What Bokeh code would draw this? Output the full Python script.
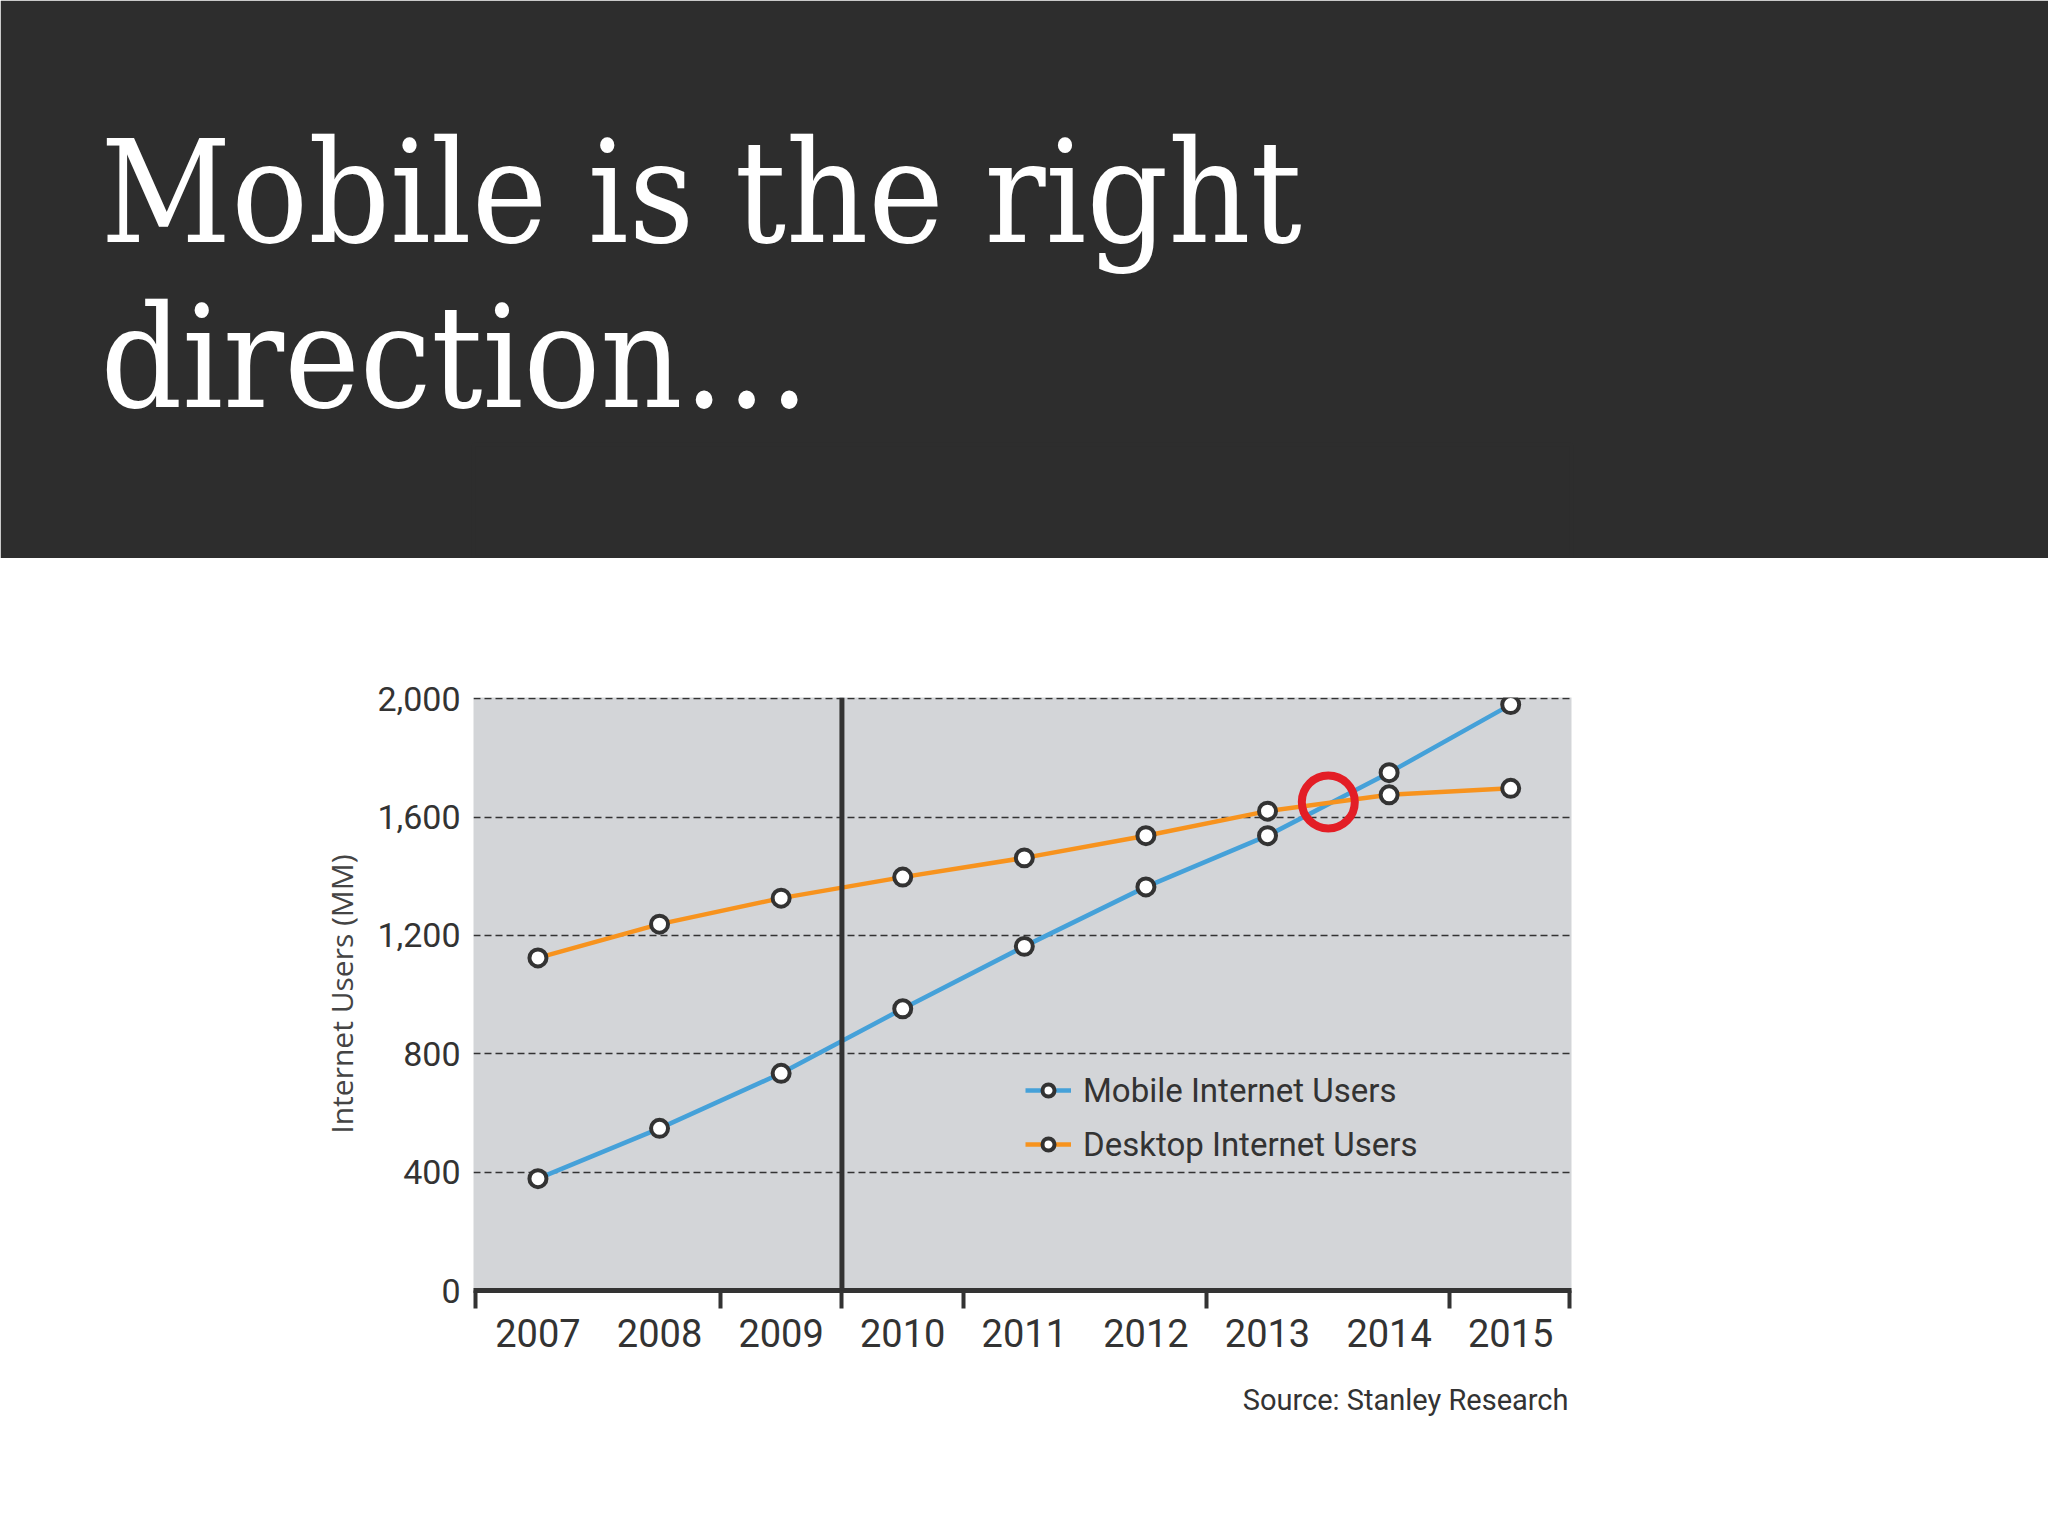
from bokeh.plotting import figure
from bokeh.models import Range1d, FixedTicker, NumeralTickFormatter, Span, Title
from bokeh.layouts import column
from bokeh.embed import file_html
from bokeh.resources import INLINE

# ---- data ----
years = [2007, 2008, 2009, 2010, 2011, 2012, 2013, 2014, 2015]
mobile_users = [378, 548, 734, 952, 1163, 1364, 1537, 1750, 1980]
desktop_users = [1124, 1238, 1326, 1397, 1462, 1537, 1620, 1675, 1697]
y_tick_values = [0, 400, 800, 1200, 1600, 2000]
x_boundary_ticks = [2006.49, 2008.5, 2009.5, 2010.5, 2012.5, 2014.5, 2015.48]
divider_year = 2009.5
crossover_year = [2013.5]
crossover_value = [1651]
series_names = ["Mobile Internet Users", "Desktop Internet Users"]
title_lines = ["Mobile is the right", "direction\u2026"]
y_label = "Internet Users (MM)"
source_text = "Source: Stanley Research"

W = 2048
TOP_H = 558
BOT_H = 1536 - TOP_H

DARK = "#333333"
BLUE = "#45a1d9"
ORANGE = "#f7931e"
RED = "#e31e26"
BAND = "#2d2d2d"
FONT = "Roboto"
SERIF = "'DejaVu Serif Condensed', 'Liberation Serif'"

# ---- title band ----
top = figure(width=W, height=TOP_H, x_range=Range1d(0, 1), y_range=Range1d(0, 1),
             output_backend="svg", toolbar_location=None, title_location=None,
             min_border=0, min_border_top=444,
             x_axis_location=None, y_axis_location=None,
             background_fill_color=BAND, border_fill_color=BAND,
             outline_line_color=BAND, outline_line_width=4)
top.grid.visible = False
for txt, so in zip(reversed(title_lines), [9, -12]):
    top.add_layout(Title(text=txt, align="left", offset=-373, text_font=SERIF,
                         text_font_size="142px", text_font_style="normal",
                         text_color="white", standoff=so), "above")

# ---- chart ----
p = figure(width=W, height=BOT_H, x_range=Range1d(2006.47, 2015.5), y_range=Range1d(0, 2004),
           output_backend="svg", toolbar_location=None,
           min_border_left=473, min_border_right=477, min_border_top=139, min_border_bottom=246,
           background_fill_color="#d3d5d8", border_fill_color="white", outline_line_color=None)

p.xaxis.ticker = FixedTicker(ticks=years, minor_ticks=x_boundary_ticks)
p.xaxis.major_tick_line_color = None
p.xaxis.major_tick_out = 0
p.xaxis.major_tick_in = 0
p.xaxis.minor_tick_out = 18
p.xaxis.minor_tick_in = 0
p.xaxis.minor_tick_line_width = 4
p.xaxis.minor_tick_line_color = DARK
p.xaxis.axis_line_width = 5
p.xaxis.axis_line_color = DARK
p.xaxis.major_label_standoff = 10
p.xaxis.major_label_text_font = FONT
p.xaxis.major_label_text_font_size = "38px"
p.xaxis.major_label_text_color = DARK

p.yaxis.ticker = FixedTicker(ticks=y_tick_values)
p.yaxis.formatter = NumeralTickFormatter(format="0,0")
p.yaxis.axis_line_color = None
p.yaxis.major_tick_line_color = None
p.yaxis.minor_tick_line_color = None
p.yaxis.major_tick_out = 0
p.yaxis.major_tick_in = 0
p.yaxis.major_label_standoff = 13
p.yaxis.major_label_text_font = FONT
p.yaxis.major_label_text_font_size = "34px"
p.yaxis.major_label_text_color = DARK
p.yaxis.axis_label = y_label
p.yaxis.axis_label_text_font = "Open Sans"
p.yaxis.axis_label_text_font_size = "30px"
p.yaxis.axis_label_text_font_style = "normal"
p.yaxis.axis_label_text_color = "#444444"
p.yaxis.axis_label_standoff = 12

p.xgrid.grid_line_color = None
p.ygrid.ticker = FixedTicker(ticks=y_tick_values)
p.ygrid.grid_line_color = DARK
p.ygrid.grid_line_width = 1.5
p.ygrid.grid_line_dash = "7 4"

p.add_layout(Span(location=divider_year, dimension="height", line_color=DARK, line_width=5))

for vals, col, name in zip([mobile_users, desktop_users], [BLUE, ORANGE], series_names):
    p.line(years, vals, line_color=col, line_width=4.5, legend_label=name)
    p.scatter(years, vals, size=17, fill_color="white", line_color=DARK, line_width=4,
              legend_label=name)

p.scatter(crossover_year, crossover_value, size=53, fill_color=None, line_color=RED, line_width=8)

lg = p.legend[0]
lg.location = (552, 119)
lg.background_fill_alpha = 0
lg.border_line_color = None
lg.label_text_font = FONT
lg.label_text_font_size = "33px"
lg.label_text_color = DARK
lg.glyph_width = 46
lg.glyph_height = 30
lg.label_height = 54
lg.spacing = 0
lg.padding = 0
lg.margin = 0
lg.label_standoff = 12

p.add_layout(Title(text=source_text, align="right", offset=3, text_font=FONT,
                   text_font_size="29px", text_font_style="normal", text_color=DARK,
                   standoff=63), "below")

layout = column(top, p, spacing=0)
open("out.html", "w").write(file_html(layout, INLINE))
